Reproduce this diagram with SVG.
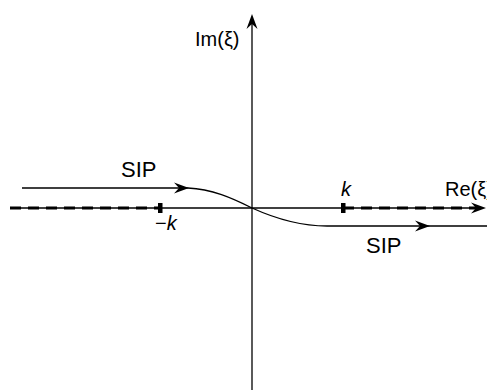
<svg xmlns="http://www.w3.org/2000/svg" width="487" height="390" viewBox="0 0 487 390">
  <style>
    .ln { fill: none; stroke: #000; stroke-width: 1.3; }
    .cut { fill: none; stroke: #000; stroke-width: 3; stroke-dasharray: 11 7; }
    .txt { font-family: "Liberation Sans", Arial, sans-serif; font-size: 20px; fill: #000; }
    .sip { font-size: 22px; }
    .it { font-style: italic; }
  </style>
  <defs>
    <path id="ah" d="M0,0 L-15,-5.5 L-10,0 L-15,5.5 Z" fill="#000"/>
  </defs>
  <rect width="487" height="390" fill="#fff"/>
  <g id="axes">
    <line class="ln" x1="252" y1="390" x2="252" y2="18"/>
    <use href="#ah" transform="translate(252,14) rotate(-90)"/>
    <line class="ln" x1="10" y1="208" x2="482" y2="208"/>
    <use href="#ah" transform="translate(486,208)"/>
  </g>
  <g id="branch-cuts">
    <line class="cut" x1="10" y1="208" x2="160" y2="208"/>
    <line class="cut" x1="343" y1="208" x2="476" y2="208"/>
    <rect x="158" y="203" width="4.5" height="10" fill="#000"/>
    <rect x="341" y="203" width="4.5" height="10" fill="#000"/>
  </g>
  <g id="sip-contour">
    <path class="ln" d="M22,188 L188,188 C212,189 232,198 252,208 C274,218 300,226 327,226 L487,226"/>
    <use href="#ah" transform="translate(189,188)"/>
    <use href="#ah" transform="translate(430,226)"/>
  </g>
  <g id="labels">
    <text class="txt" x="195" y="46">Im(ξ)</text>
    <text class="txt" x="445" y="196">Re(ξ)</text>
    <text class="txt it" x="341" y="196">k</text>
    <text class="txt" x="155" y="230">−<tspan class="it">k</tspan></text>
    <text class="txt sip" x="121" y="177">SIP</text>
    <text class="txt sip" x="366" y="253">SIP</text>
  </g>
</svg>
